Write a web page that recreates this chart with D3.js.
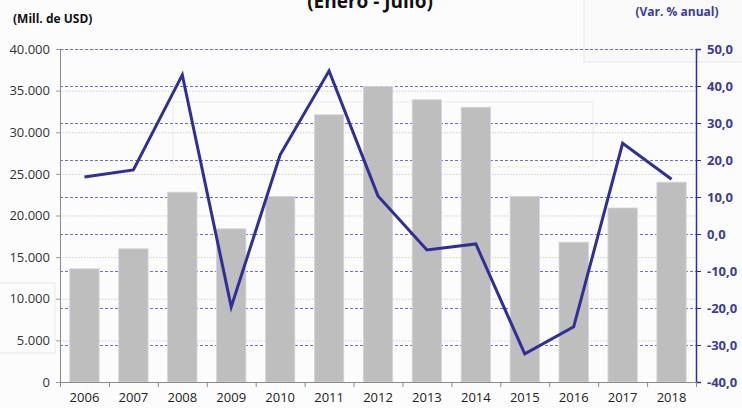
<!DOCTYPE html>
<html>
<head>
<meta charset="utf-8">
<script src="https://cdn.jsdelivr.net/npm/d3@7"></script>
<style>
  html, body { margin: 0; padding: 0; background: #fcfcfc; }
  svg { display: block; }
  text { font-family: "Open Sans", "DejaVu Sans", sans-serif; }
</style>
</head>
<body>
<svg id="chart" width="742" height="408"></svg>
<script>
// Exportaciones enero-julio: valor (mill. USD) y variación anual (%)
const years = ["2006","2007","2008","2009","2010","2011","2012","2013","2014","2015","2016","2017","2018"];
const valueUSD = [13600, 16000, 22800, 18400, 22300, 32100, 35500, 33900, 33000, 22300, 16800, 20900, 24000];
const varPct = [15.4, 17.3, 43.0, -19.7, 21.4, 44.1, 10.3, -4.3, -2.7, -32.4, -25.1, 24.5, 14.8];
const leftTicks = [0, 5000, 10000, 15000, 20000, 25000, 30000, 35000, 40000];
const rightTicks = [-40, -30, -20, -10, 0, 10, 20, 30, 40, 50];

const svg = d3.select("#chart");
const W = 742, H = 408;
const m = { top: 49, right: 46, bottom: 26, left: 60 };
const x0 = m.left, x1 = W - m.right, y0 = H - m.bottom, y1 = m.top;

const loc = d3.formatLocale({ decimal: ",", thousands: ".", grouping: [3], currency: ["", ""], minus: "-" });
const fmtL = loc.format(",.0f");
const fmtR = loc.format(".1f");

const x = d3.scaleBand().domain(years).range([x0, x1]).paddingInner(0.4).paddingOuter(0.2);
const xb = d3.scaleBand().domain(years).range([x0, x1]);
const yL = d3.scaleLinear().domain([0, 40000]).range([y0, y1]);
const yR = d3.scaleLinear().domain([-40, 50]).range([y0, y1]);

// faint background panels
const panels = svg.append("g").attr("fill", "none").attr("stroke", "#ececec").attr("stroke-width", 1.2);
panels.append("rect").attr("x", 584).attr("y", -5).attr("width", 170).attr("height", 67).attr("fill", "#f9f9f9");
panels.append("rect").attr("x", -5).attr("y", 283).attr("width", 60).attr("height", 70);
panels.append("rect").attr("x", 173).attr("y", 102).attr("width", 420).attr("height", 65).attr("stroke", "#efefef");

// grid: grey dotted for value axis, blue dashed for percent axis
svg.append("g").selectAll("line").data(leftTicks.filter(d => d > 0)).join("line")
  .attr("x1", x0).attr("x2", x1)
  .attr("y1", d => yL(d) + 0.5).attr("y2", d => yL(d) + 0.5)
  .attr("stroke", "#cfcfcf").attr("stroke-width", 1).attr("stroke-dasharray", "1.5,1.5");
svg.append("g").selectAll("line").data(rightTicks.filter(d => d > -40)).join("line")
  .attr("x1", x0).attr("x2", x1)
  .attr("y1", d => yR(d) + 0.5).attr("y2", d => yR(d) + 0.5)
  .attr("stroke", "#6d6de0").attr("stroke-width", 1).attr("stroke-dasharray", "3,2");

// bars
svg.append("g").selectAll("rect").data(years).join("rect")
  .attr("x", d => x(d)).attr("width", x.bandwidth())
  .attr("y", (d, i) => yL(valueUSD[i])).attr("height", (d, i) => y0 - yL(valueUSD[i]))
  .attr("fill", "#bebebe").attr("stroke", "#d6d6d6").attr("stroke-width", 0.8);

// line
const line = d3.line().x((d, i) => xb(years[i]) + xb.bandwidth() / 2).y(d => yR(d));
svg.append("path").datum(varPct).attr("d", line)
  .attr("fill", "none").attr("stroke", "#2f2f96").attr("stroke-width", 3).attr("stroke-linejoin", "miter");

// left axis
const gL = svg.append("g").attr("transform", `translate(${x0},0)`)
  .call(d3.axisLeft(yL).tickValues(leftTicks).tickFormat(fmtL).tickSize(4).tickPadding(6));
gL.select(".domain").attr("stroke", "#8a8a8a");
gL.selectAll(".tick line").attr("stroke", "#9a9a9a");
gL.selectAll(".tick text").attr("fill", "#333").style("font-size", "13px");

// right axis
const gR = svg.append("g").attr("transform", `translate(${x1},0)`)
  .call(d3.axisRight(yR).tickValues(rightTicks).tickFormat(fmtR).tickSize(5).tickPadding(6));
gR.select(".domain").attr("stroke", "#2f2f96").attr("stroke-width", 1.5);
gR.selectAll(".tick line").attr("stroke", "#2f2f96");
gR.selectAll(".tick text").attr("fill", "#3b3b9c").style("font-size", "13px").style("font-weight", "bold");

// bottom axis
const gB = svg.append("g").attr("transform", `translate(0,${y0})`)
  .call(d3.axisBottom(xb).tickSize(0).tickPadding(11));
gB.select(".domain").attr("stroke", "#8a8a8a");
gB.selectAll(".tick text").attr("fill", "#222").style("font-size", "13px");
svg.append("g").selectAll("line").data(years.concat(["end"])).join("line")
  .attr("x1", (d, i) => x0 + i * xb.step() + 0.5).attr("x2", (d, i) => x0 + i * xb.step() + 0.5)
  .attr("y1", y0).attr("y2", y0 + 5).attr("stroke", "#8a8a8a");

// titles
svg.append("text").attr("x", 370).attr("y", 8).attr("text-anchor", "middle")
  .style("font-size", "19px").style("font-weight", "bold").attr("fill", "#111").text("(Enero - Julio)");
svg.append("text").attr("x", 13).attr("y", 23)
  .style("font-size", "12px").style("font-weight", "bold").attr("fill", "#111").text("(Mill. de USD)");
svg.append("text").attr("x", 677).attr("y", 16).attr("text-anchor", "middle")
  .style("font-size", "12px").style("font-weight", "bold").attr("fill", "#3b3b9c").text("(Var. % anual)");
</script>
</body>
</html>
